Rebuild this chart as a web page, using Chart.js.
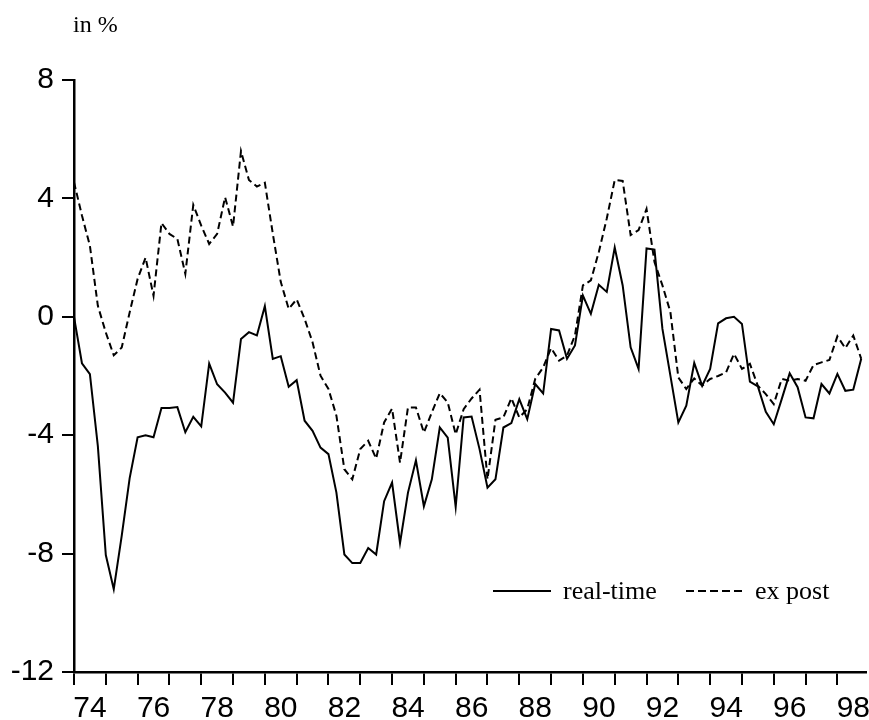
<!DOCTYPE html>
<html>
<head>
<meta charset="utf-8">
<script src="https://cdn.jsdelivr.net/npm/chart.js@4"></script>
<style>
  body { margin: 0; background: #fff; }
  #grafico { display: block; }
</style>
</head>
<body>
<canvas id="grafico" width="869" height="720"></canvas>
<script>
// trimestral 1974Q1 - 1998Q4
var anioInicio = 1974;
var yearLabels = ["74", "76", "78", "80", "82", "84", "86", "88", "90", "92", "94", "96", "98"];
var yTicks = [-12, -8, -4, 0, 4, 8];

var realTime = [
  0.0, -1.57, -1.94, -4.37, -8.05, -9.2, -7.4, -5.45, -4.07, -4.0,
  -4.07, -3.08, -3.08, -3.05, -3.9, -3.38, -3.7, -1.58, -2.28, -2.56,
  -2.9, -0.75, -0.52, -0.63, 0.36, -1.42, -1.33, -2.36, -2.14, -3.51,
  -3.85, -4.42, -4.64, -5.94, -8.03, -8.32, -8.32, -7.81, -8.03, -6.23,
  -5.6, -7.64, -5.94, -4.85, -6.4, -5.49, -3.74, -4.08, -6.42, -3.4,
  -3.37, -4.47, -5.77, -5.49, -3.74, -3.59, -2.78, -3.46, -2.27, -2.59,
  -0.41, -0.46, -1.42, -0.97, 0.72, 0.1, 1.08, 0.84, 2.34, 1.06,
  -1.03, -1.76, 2.31, 2.27, -0.41, -1.99, -3.57, -3.0, -1.56, -2.33,
  -1.76, -0.22, -0.05, 0.0, -0.24, -2.19, -2.35, -3.21, -3.63, -2.78,
  -1.91, -2.38, -3.4, -3.43, -2.27, -2.59, -1.93, -2.5, -2.46, -1.42
];

var exPost = [
  4.55, 3.42, 2.4, 0.37, -0.53, -1.3, -1.04, 0.15, 1.28, 2.0,
  0.71, 3.17, 2.8, 2.63, 1.45, 3.78, 3.08, 2.46, 2.8, 4.04,
  3.05, 5.6, 4.62, 4.4, 4.53, 2.81, 1.18, 0.27, 0.59, -0.07,
  -0.86, -1.99, -2.44, -3.34, -5.15, -5.49, -4.47, -4.19, -4.79, -3.57,
  -3.1, -4.93, -3.06, -3.06, -3.91, -3.23, -2.58, -2.89, -3.97, -3.12,
  -2.76, -2.46, -5.49, -3.48, -3.4, -2.75, -3.4, -3.12, -2.1, -1.71,
  -1.06, -1.48, -1.31, -0.63, 1.06, 1.23, 2.19, 3.32, 4.62, 4.59,
  2.76, 2.93, 3.64, 1.85, 1.06, 0.16, -2.05, -2.44, -2.08, -2.33,
  -2.1, -2.0, -1.88, -1.25, -1.76, -1.59, -2.33, -2.61, -2.95, -2.1,
  -2.16, -2.1, -2.16, -1.63, -1.54, -1.46, -0.66, -1.06, -0.63, -1.42
];

function aPuntos(serie) {
  return serie.map(function (v, i) {
    return { x: anioInicio + i / 4, y: v };
  });
}

// "in %" y la leyenda dentro del grafico
var textosExtra = {
  id: "textosExtra",
  afterDraw: function (chart) {
    var c = chart.ctx;
    c.save();
    c.fillStyle = "#000";
    c.textBaseline = "alphabetic";
    c.font = "24px 'Liberation Serif'";
    c.fillText("in %", 73, 32);

    var pos = [
      { x0: 493, x1: 551, tx: 563 },
      { x0: 686, x1: 744, tx: 755 },
    ];
    c.font = "26px 'Liberation Serif'";
    chart.data.datasets.forEach(function (ds, k) {
      var p = pos[k];
      c.beginPath();
      c.lineWidth = 2;
      c.strokeStyle = "#000";
      c.setLineDash(ds.borderDash ? [8, 4] : []);
      c.moveTo(p.x0, 591);
      c.lineTo(p.x1, 591);
      c.stroke();
      c.setLineDash([]);
      c.fillText(ds.label, p.tx, 599);
    });
    c.restore();
  },
};

const ctx = document.getElementById("grafico");

window.grafico = new Chart(ctx, {
  type: "line",
  data: {
    datasets: [
      {
        label: "real-time",
        data: aPuntos(realTime),
        borderColor: "#000",
        borderWidth: 2,
        pointRadius: 0,
        tension: 0,
        fill: false,
      },
      {
        label: "ex post",
        data: aPuntos(exPost),
        borderColor: "#000",
        borderWidth: 2,
        borderDash: [7, 4],
        pointRadius: 0,
        tension: 0,
        fill: false,
      },
    ],
  },
  options: {
    responsive: false,
    animation: false,
    layout: {
      padding: { top: 80, right: 3, left: 0, bottom: 0 },
    },
    plugins: {
      legend: { display: false },
      tooltip: { enabled: false },
    },
    scales: {
      x: {
        type: "linear",
        min: anioInicio,
        max: 1998.9,
        afterFit: function (scale) {
          scale.height = 48;
        },
        border: { display: true, color: "#000", width: 2.5 },
        grid: {
          drawOnChartArea: false,
          drawTicks: true,
          tickLength: 13,
          color: "#000",
          lineWidth: 2,
        },
        ticks: {
          stepSize: 1,
          includeBounds: false,
          autoSkip: false,
          maxRotation: 0,
          labelOffset: 16,
          padding: 6,
          color: "#000",
          font: { family: "'Liberation Sans', Arial", size: 30 },
          callback: function (value) {
            var lab = String(value).slice(2);
            return yearLabels.includes(lab) ? lab : "";
          },
        },
      },
      y: {
        min: yTicks[0],
        max: yTicks[yTicks.length - 1],
        afterFit: function (scale) {
          scale.width = 74;
        },
        border: { display: true, color: "#000", width: 2.5 },
        grid: {
          drawOnChartArea: false,
          drawTicks: true,
          tickLength: 12,
          color: "#000",
          lineWidth: 2,
        },
        ticks: {
          stepSize: 4,
          padding: 8,
          color: "#000",
          font: { family: "'Liberation Sans', Arial", size: 30 },
        },
      },
    },
  },
  plugins: [textosExtra],
});
</script>
</body>
</html>
